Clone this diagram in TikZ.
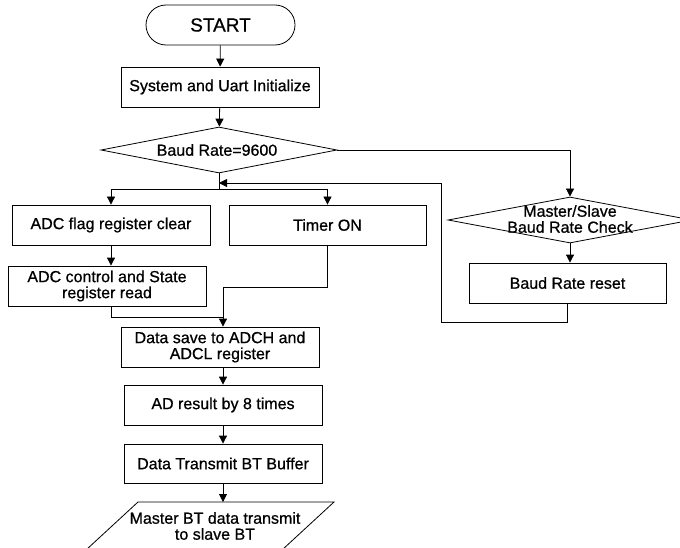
\documentclass[tikz,border=0pt]{standalone}
\usepackage{fontspec}
\setmainfont{Liberation Sans}[FakeBold=0.7]
\usetikzlibrary{arrows.meta,shapes.geometric,shapes.misc}
\begin{document}
\begin{tikzpicture}[x=1pt,y=-1pt,
  every node/.style={font=\fontsize{16}{16}\selectfont, inner sep=0pt, align=center},
  box/.style={draw, rectangle, line width=0.8pt, minimum width=198pt, minimum height=40pt},
  dia/.style={draw, diamond, line width=0.8pt, minimum width=236pt, minimum height=46pt},
  arr/.style={-{Triangle[length=8pt,width=8pt]}},
  ln/.style={line width=0.8pt}
]
\useasboundingbox (0,0) rectangle (680,548);
\clip (0,0) rectangle (680,548);

\node[draw, rounded rectangle, line width=0.8pt, minimum width=149pt, minimum height=40pt,
      font=\fontsize{19}{19}\selectfont] (start) at (220.5,25) {START};
\node[box] (sys) at (220,87) {System and Uart Initialize};
\node[dia] (brd) at (219,150) {};
\node (brdt) at (217,150) {Baud Rate=9600};

\node[box] (adcf) at (111,225) {ADC flag register clear};
\node[box, minimum width=197pt] (timer) at (327.5,225) {Timer ON};
\node[box] (adcc) at (107,286) {ADC control and State\\register read};
\node[box] (dsave) at (220,347) {Data save to ADCH and\\ADCL register};
\node[box] (adres) at (223,405) {AD result by 8 times};
\node[box, minimum height=39pt] (dtx) at (223,463.5) {Data Transmit BT Buffer};

% parallelogram (output)
\coordinate (ptl) at (138,502);
\coordinate (ptr) at (334,502);
\coordinate (pbr) at (282,550);
\coordinate (pbl) at (86,550);
\draw[ln] (ptl) -- (ptr) -- (pbr) -- (pbl) -- cycle;
\node (para) at (215,526) {Master BT data transmit\\to slave BT};
\coordinate (paratop) at (223,502);

\node[dia, minimum width=244pt] (msd) at (570,220) {};
\node (msdt) at (570,219) {Master/Slave\\Baud Rate Check};
\node[box, minimum width=197pt] (bareset) at (567.5,283) {Baud Rate reset};

% main flow
\draw[ln,arr] (start) -- (sys);
\draw[ln,arr] (sys) -- (brd);
\coordinate (bj) at (219,189);
\draw[ln] (brd.south) -- (bj);
\draw[ln,arr] (bj) -| (adcf.north);
\draw[ln,arr] (bj) -| (timer.north);
\draw[ln,arr] (adcf.south) -- (adcf.south |- adcc.north);

\coordinate (m1) at (223,317);
\coordinate (m2) at (223,287);
\draw[ln] (adcf.south |- adcc.south) |- (m1);
\draw[ln,arr] (timer.south) |- (m2) -- (m2 |- dsave.north);

\draw[ln,arr] (dsave.south -| adres) -- (adres.north);
\draw[ln,arr] (adres) -- (dtx);
\draw[ln,arr] (dtx.south) -- (paratop);

% right branch
\draw[ln,arr] (brd.east) -| (msd.north);
\draw[ln,arr] (msd.south) -- (msd.south |- bareset.north);
\coordinate (fb1) at (441,322);
\coordinate (fb2) at (441,183);
\draw[ln,arr] (bareset.south) |- (fb1) -- (fb2) -- (fb2 -| brd.south);
\end{tikzpicture}
\end{document}
